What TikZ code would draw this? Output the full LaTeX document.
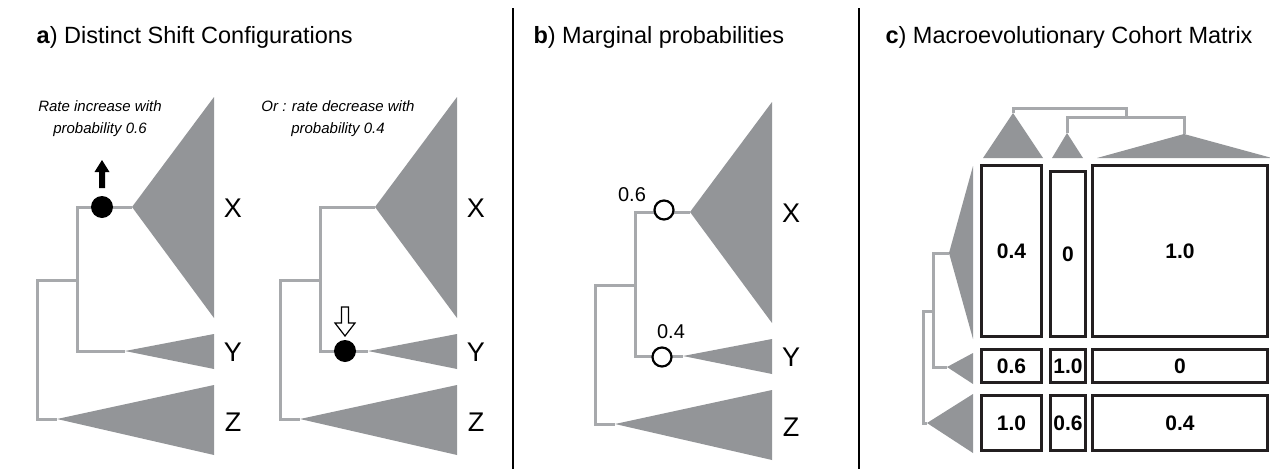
\documentclass[tikz,border=0pt]{standalone}
\usepackage{fontspec}
\setmainfont{Liberation Sans}
\usetikzlibrary{positioning}
\definecolor{cladeGray}{HTML}{939598}
\definecolor{branchGray}{HTML}{A7A9AC}
\definecolor{cellBlack}{HTML}{231F20}

\begin{document}
\begin{tikzpicture}[
    x=1pt, y=-1pt,
    clade/.style={fill=cladeGray,draw=none},
    branch/.style={draw=branchGray,line width=3pt},
    panelTitle/.style={anchor=west,font=\fontsize{23.5}{27}\selectfont},
    tiplab/.style={font=\fontsize{27}{30}\selectfont},
    note/.style={align=center,font=\fontsize{15}{22}\selectfont\itshape},
    prob/.style={font=\fontsize{20}{22}\selectfont},
    cell/.style={draw=cellBlack,line width=2.9pt,inner sep=0pt,
                 font=\fontsize{21}{24}\selectfont\bfseries},
    shiftdot/.style={circle,fill=black,inner sep=0pt,minimum size=22pt},
    marg/.style={circle,draw=black,line width=2.2pt,fill=white,
                 inner sep=0pt,minimum size=19pt},
    divider/.style={draw=black,line width=2pt}
  ]
  \useasboundingbox (0,0) rectangle (1270,469);
  %% Panel titles
  \node[panelTitle] (titleA) at (33,37)  {\textbf{a}) Distinct Shift Configurations};
  \node[panelTitle] (titleB) at (530,37) {\textbf{b}) Marginal probabilities};
  \node[panelTitle] (titleC) at (882,37) {\textbf{c}) Macroevolutionary Cohort Matrix};
  %% Dividers
  \draw[divider] (513,8) -- (513,469);
  \draw[divider] (859,8) -- (859,469);
  %% Three-clade trees (a left, a right, b)
  \foreach \dx/\dy/\p in {0/0/aL,243/0/aR,558/5/b} {
    \begin{scope}[shift={(\dx,\dy)}]
      \fill[clade] (132,207) -- (214,97) -- (214,318) -- cycle;
      \fill[clade] (125,351) -- (214,334) -- (214,369) -- cycle;
      \fill[clade] (57,419) -- (214,385) -- (214,455) -- cycle;
      \coordinate (\p X) at (132,207);
      \coordinate (\p Y) at (125,351);
      \coordinate (\p Z) at (57,419);
      \coordinate (\p in) at (77,280);
      \draw[branch] (\p X) -| (77,351) -- (\p Y);
      \draw[branch] (\p in) -| (37,419) -- (\p Z);
      \node[tiplab] (\p labX) at (233,208) {X};
      \node[tiplab] (\p labY) at (233,352) {Y};
      \node[tiplab] (\p labZ) at (233,422) {Z};
    \end{scope}
  }
  %% a) shift configurations
  \node[note] (noteUp) at (100,119) {Rate increase with\\probability 0.6};
  \node[note] (noteDown) at (338,119) {Or : rate decrease with\\probability 0.4};
  \node[shiftdot] (upDot) at (102,207) {};
  \fill[black] (99,188) -- (99,172) -- (94.5,172) -- (102,160)
    -- (109.5,172) -- (105,172) -- (105,188) -- cycle;
  \node[shiftdot] (downDot) at (345,351) {};
  \draw[black,line width=1.2pt,fill=white] (341.5,307) -- (341.5,323)
    -- (335,323) -- (345,336) -- (355,323) -- (348.5,323) -- (348.5,307) -- cycle;
  %% b) marginal probabilities
  \node[marg] (margX) at (664,210) {};
  \node[marg] (margY) at (662,357) {};
  \node[prob] (probX) at (632,195) {0.6};
  \node[prob] (probY) at (671,332) {0.4};
  %% c) top tree
  \fill[clade] (1013,113) -- (983,158) -- (1043,158) -- cycle;
  \fill[clade] (1067,133) -- (1052,158) -- (1083,158) -- cycle;
  \fill[clade] (1184,134) -- (1097,158) -- (1272,158) -- cycle;
  \coordinate (cX) at (1013,113);
  \coordinate (cY) at (1067,133);
  \coordinate (cZ) at (1184,134);
  \coordinate (cYZ) at (1126,117);
  \draw[branch] (cX) |- (1126,108) -- (cYZ);
  \draw[branch] (cY) |- (cYZ) -| (cZ);
  %% c) left tree
  \fill[clade] (949,253) -- (973,166) -- (973,339) -- cycle;
  \fill[clade] (947,367) -- (973,353) -- (973,384) -- cycle;
  \fill[clade] (927,423) -- (973,394) -- (973,453) -- cycle;
  \coordinate (rX) at (949,253);
  \coordinate (rY) at (947,367);
  \coordinate (rZ) at (927,423);
  \coordinate (rXY) at (933,311);
  \draw[branch] (rX) -| (933,367) -- (rY);
  \draw[branch] (rXY) -| (923,423) -- (rZ);
  %% c) cohort matrix
  \node[cell,minimum width=60pt,minimum height=171pt] (m11) at (1011.5,251) {0.4};
  \node[cell,minimum width=35pt,minimum height=165pt] (m12) at (1068,254) {0};
  \node[cell,minimum width=175pt,minimum height=171pt] (m13) at (1180,251) {1.0};
  \node[cell,minimum width=60pt,minimum height=33pt] (m21) at (1011.5,366) {0.6};
  \node[cell,minimum width=35pt,minimum height=33pt] (m22) at (1068,366) {1.0};
  \node[cell,minimum width=175pt,minimum height=33pt] (m23) at (1180,366) {0};
  \node[cell,minimum width=60pt,minimum height=55pt] (m31) at (1011.5,423) {1.0};
  \node[cell,minimum width=35pt,minimum height=55pt] (m32) at (1068,423) {0.6};
  \node[cell,minimum width=175pt,minimum height=55pt] (m33) at (1180,423) {0.4};
\end{tikzpicture}
\end{document}
